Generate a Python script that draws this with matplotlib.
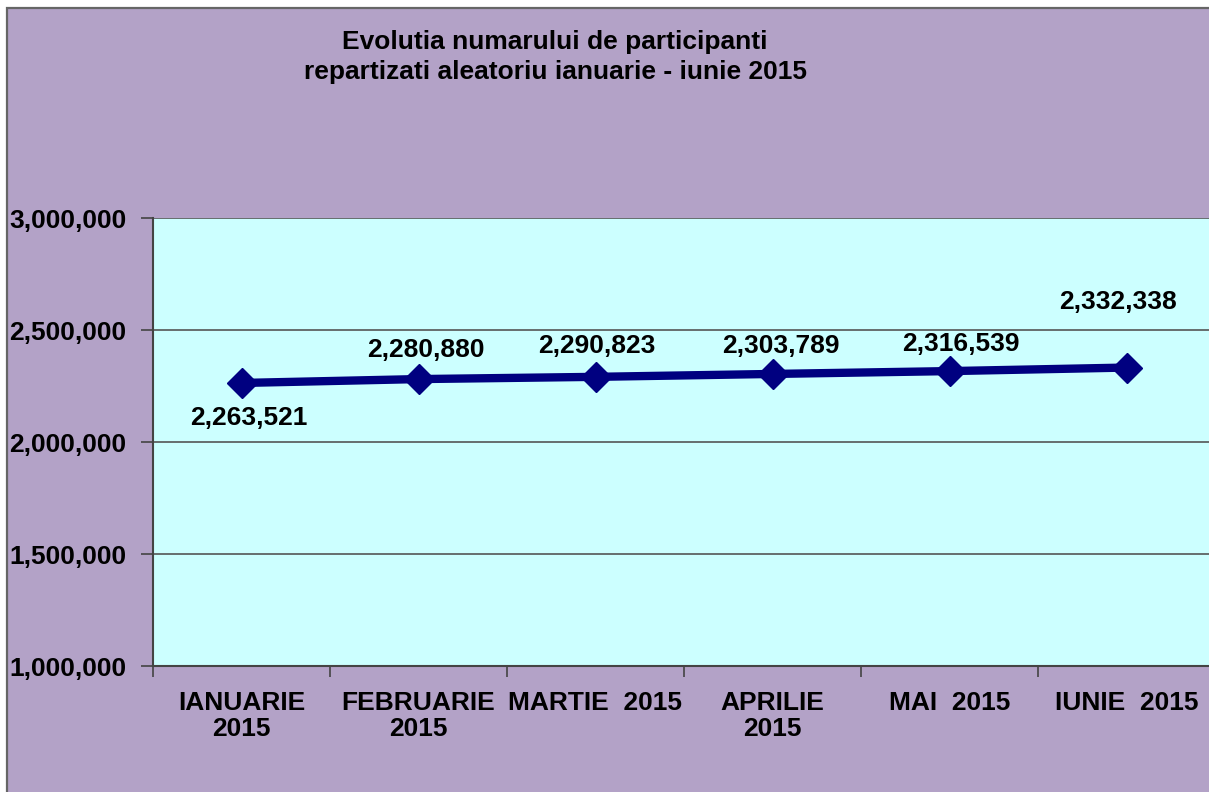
import matplotlib
matplotlib.use("Agg")
import matplotlib.pyplot as plt
from matplotlib.patches import Rectangle
from matplotlib.ticker import FuncFormatter, FixedLocator

plt.rcParams['font.family'] = ['Liberation Sans', 'DejaVu Sans']

categories = ["IANUARIE\n2015", "FEBRUARIE\n2015", "MARTIE  2015",
              "APRILIE\n2015", "MAI  2015", "IUNIE  2015"]
values = [2263521, 2280880, 2290823, 2303789, 2316539, 2332338]
yticks = [1000000, 1500000, 2000000, 2500000, 3000000]
title = "Evolutia numarului de participanti\nrepartizati aleatoriu ianuarie - iunie 2015"

# label offsets in pixels (style)
label_offsets = [(7, -35), (7, 29), (1, 31), (8, 28), (11, 27), (-8, 66)]

W, H = 1209, 792
fig = plt.figure(figsize=(W / 100, H / 100), dpi=100)
fig.patch.set_facecolor("white")

purple = "#B3A2C7"
cyan = "#CCFFFF"
navy = "#000080"
FS = 19

fig.patches.append(Rectangle((7 / W, -0.05), 1.1, 1 - 8 / H + 0.05,
                             transform=fig.transFigure, facecolor=purple,
                             edgecolor="#666666", linewidth=1.6, zorder=-5))

ax = fig.add_axes([153 / W, 1 - 666 / H, (1215 - 153) / W, (666 - 218) / H])
ax.set_facecolor(cyan)

x = list(range(len(categories)))
ax.plot(x, values, color=navy, linewidth=6, marker="D", markersize=15,
        markerfacecolor=navy, markeredgecolor=navy, zorder=3, clip_on=False)

ax.set_xlim(-0.5, len(categories) - 0.5)
ax.set_ylim(yticks[0], yticks[-1])
ax.set_yticks(yticks)
ax.yaxis.set_major_formatter(FuncFormatter(lambda v, p: f"{int(v):,}"))
ax.grid(axis="y", color="#555555", linewidth=1.2, zorder=1)
ax.set_axisbelow(True)

ax.set_xticks(x)
ax.set_xticklabels(categories, fontsize=FS, fontweight="bold", linespacing=1.1)
ax.xaxis.set_minor_locator(FixedLocator([i - 0.5 for i in range(len(categories) + 1)]))
ax.tick_params(axis="x", which="major", length=0, pad=18)
ax.tick_params(axis="x", which="minor", length=8, width=1.2, color="#444444")
ax.tick_params(axis="y", which="major", length=9, width=1.2, color="#444444",
               labelsize=FS, pad=10)
for lbl in ax.get_yticklabels():
    lbl.set_fontweight("bold")

for s in ["top", "right"]:
    ax.spines[s].set_visible(False)
for s in ["left", "bottom"]:
    ax.spines[s].set_color("#444444")
    ax.spines[s].set_linewidth(1.5)

for xi, v, (dx, dy) in zip(x, values, label_offsets):
    ax.annotate(f"{v:,}", (xi, v), xytext=(dx * 0.72, dy * 0.72),
                textcoords="offset points", ha="center", va="center",
                fontsize=FS, fontweight="bold", color="black", zorder=4)

fig.text(555 / W, 1 - 57 / H, title, ha="center", va="center",
         fontsize=FS, fontweight="bold", linespacing=1.3)

fig.savefig("out.png", dpi=100, facecolor=fig.get_facecolor())
